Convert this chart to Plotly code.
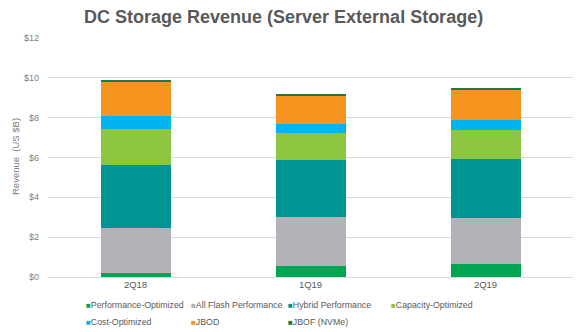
import plotly.graph_objects as go

# Quarterly revenue by storage class, US $B
quarters = ["2Q18", "1Q19", "2Q19"]
performance_optimized = [0.18, 0.57, 0.65]
all_flash_performance = [2.30, 2.45, 2.32]
hybrid_performance = [3.12, 2.83, 2.98]
capacity_optimized = [1.83, 1.38, 1.45]
cost_optimized = [0.67, 0.45, 0.47]
jbod = [1.70, 1.44, 1.55]
jbof_nvme = [0.05, 0.02, 0.05]

series_names = ["Performance-Optimized", "All Flash Performance", "Hybrid Performance",
                "Capacity-Optimized", "Cost-Optimized", "JBOD", "JBOF (NVMe)"]
series_values = [performance_optimized, all_flash_performance, hybrid_performance,
                 capacity_optimized, cost_optimized, jbod, jbof_nvme]
series_colors = ["#00A651", "#B2B3B6", "#009494", "#8DC63F", "#00B4EF", "#F7941D", "#1E7B3C"]

W, H = 581, 332
L, R, T, B = 48, 8, 38, 55
PW, PH = W - L - R, H - T - B

def px_x(x):
    return (x - L) / PW

def px_y(y):
    return (H - B - y) / PH

fig = go.Figure()
for name, vals, col in zip(series_names, series_values, series_colors):
    fig.add_trace(go.Bar(x=quarters, y=vals, name=name, marker_color=col,
                         marker_line_width=0, width=0.4, showlegend=False))

grey = "#7F7F7F"
fig.update_layout(
    width=W, height=H, barmode="stack",
    margin=dict(l=L, r=R, t=T, b=B),
    paper_bgcolor="white", plot_bgcolor="white",
    font=dict(family="Liberation Sans, Arial, sans-serif", color=grey, size=9),
    xaxis=dict(showgrid=False, showline=False, ticks="", tickfont=dict(size=9.5, color="#595959")),
    yaxis=dict(range=[0, 12], dtick=2, tickprefix="$", showgrid=True, gridcolor="#D9D9D9",
               gridwidth=1, zeroline=True, zerolinecolor="#D9D9D9", zerolinewidth=1,
               tickfont=dict(size=9, color=grey), ticklabelstandoff=8),
)

annotations = [
    dict(text="<b>DC Storage Revenue (Server External Storage)</b>", xref="paper", yref="paper",
         x=px_x(283), y=px_y(17), xanchor="center", yanchor="middle", showarrow=False,
         font=dict(size=18, color="#595959")),
    dict(text="Revenue  (US $B)", xref="paper", yref="paper", x=px_x(15), y=px_y(157),
         xanchor="center", yanchor="middle", textangle=-90, showarrow=False,
         font=dict(size=9.5, color=grey)),
]

# Legend: four columns, two rows
col_x = [84, 189, 286, 389]
row_y = [305, 322]
for i, (name, col) in enumerate(zip(series_names, series_colors)):
    r, c = divmod(i, 4)
    annotations.append(dict(
        text=f"<span style='color:{col};font-size:8px'>■</span>{name}", xref="paper", yref="paper",
        x=px_x(col_x[c]), y=px_y(row_y[r]), xanchor="left", yanchor="middle",
        showarrow=False, font=dict(size=8.8, color="#595959")))

fig.update_layout(annotations=annotations)
fig.write_html("out.html")
